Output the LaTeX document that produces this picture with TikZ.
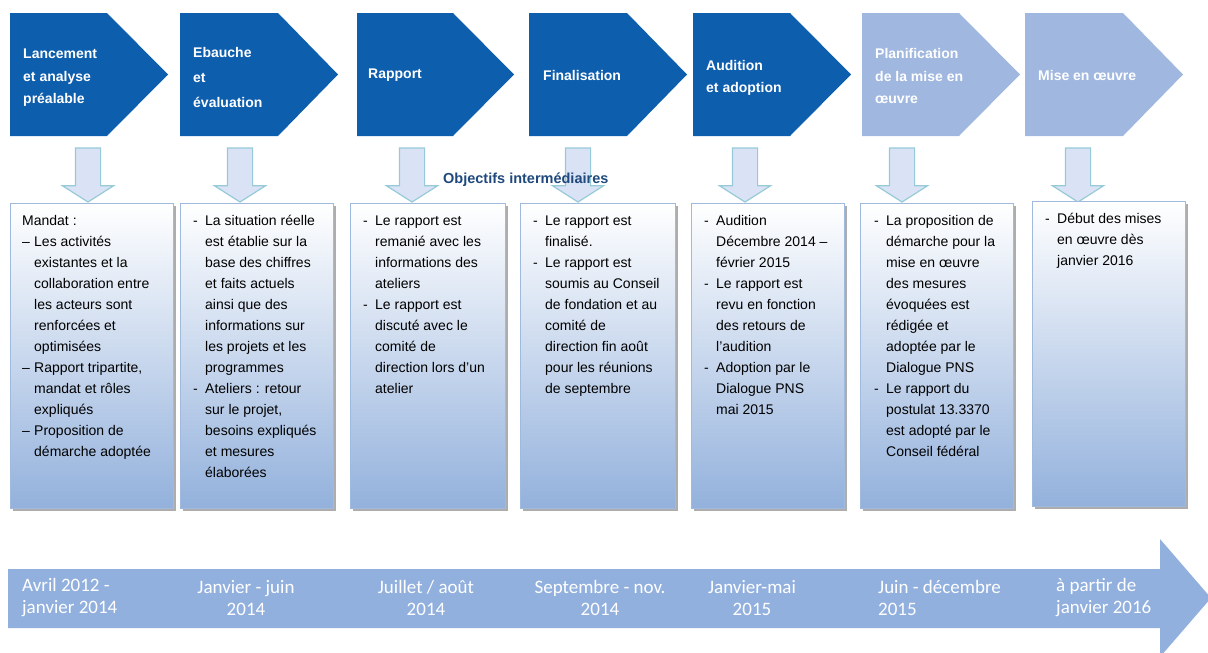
\documentclass[tikz,border=0pt]{standalone}
\usepackage{fontspec}
\setmainfont{Liberation Sans}
\newfontfamily\datefont{Carlito}
\usetikzlibrary{positioning}
\usetikzlibrary{shapes.arrows}
\usetikzlibrary{shadows}
\definecolor{phasedark}{RGB}{14,94,174}
\definecolor{phaselight}{RGB}{160,184,224}
\definecolor{timeline}{RGB}{146,176,222}
\definecolor{boxbottom}{RGB}{147,177,220}
\definecolor{boxedge}{RGB}{160,186,222}
\definecolor{arrowfill}{RGB}{218,227,245}
\definecolor{arrowedge}{RGB}{150,202,216}
\definecolor{objblue}{RGB}{31,73,125}

\begin{document}
\begin{tikzpicture}[
	x=1pt,
	y=-1pt,
	phase/.style={anchor=west,align=left,text=white,inner sep=0pt,font=\bfseries\fontsize{14}{22.5}\selectfont},
	down/.style={single arrow, rotate=-90, draw=arrowedge, line width=1.2pt, fill=arrowfill, minimum height=54pt, minimum width=50pt, inner xsep=0pt, inner ysep=12pt, single arrow head extend=13pt, single arrow tip angle=115},
	box/.style={anchor=north west, draw=boxedge, line width=1pt, top color=white, bottom color=boxbottom, minimum height=305pt, minimum width=153pt, inner sep=0pt, drop shadow={shadow xshift=2.5pt, shadow yshift=-2.5pt, fill=black!40, opacity=0.8}},
	item/.style={anchor=north west,inner sep=0pt,font=\fontsize{14}{21}\selectfont},
	date/.style={text=white,inner sep=0pt,font=\datefont\fontsize{19}{22}\selectfont},
]
\useasboundingbox (0,0) rectangle (1208,653);

% Phases
\fill[phasedark] (10,13) -- ++(97,0) -- ++(61,61.5) -- ++(-61,61.5) -- ++(-97,0) -- cycle;
\fill[phasedark] (180,13) -- ++(98,0) -- ++(60,61.5) -- ++(-60,61.5) -- ++(-98,0) -- cycle;
\fill[phasedark] (357,13) -- ++(96,0) -- ++(61,61.5) -- ++(-61,61.5) -- ++(-96,0) -- cycle;
\fill[phasedark] (529,13) -- ++(98,0) -- ++(60,61.5) -- ++(-60,61.5) -- ++(-98,0) -- cycle;
\fill[phasedark] (693,13) -- ++(97,0) -- ++(61,61.5) -- ++(-61,61.5) -- ++(-97,0) -- cycle;
\fill[phaselight] (862,13) -- ++(97,0) -- ++(61,61.5) -- ++(-61,61.5) -- ++(-97,0) -- cycle;
\fill[phaselight] (1025,13) -- ++(98,0) -- ++(60,61.5) -- ++(-60,61.5) -- ++(-98,0) -- cycle;

\node[phase](p1) at (23,78) {Lancement\\et analyse\\préalable};
\node[phase,font=\bfseries\fontsize{14}{25}\selectfont](p2) at (193,77) {Ebauche\\et\\évaluation};
\node[phase](p3) at (368,75) {Rapport};
\node[phase](p4) at (543,75) {Finalisation};
\node[phase](p5) at (706,78) {Audition\\et adoption};
\node[phase](p6) at (875,76) {Planification\\de la mise en\\œuvre};
\node[phase](p7) at (1038,75) {Mise en œuvre};

% Arrows down
\node[down](a1) at (88,171) {};
\node[down](a2) at (240,171) {};
\node[down](a3) at (412,171) {};
\node[down](a4) at (578,171) {};
\node[down](a5) at (745,171) {};
\node[down](a6) at (902,171) {};
\node[down](a7) at (1078,171) {};

\node[anchor=west,inner sep=0pt,text=objblue,font=\bfseries\fontsize{14.5}{17}\selectfont](obj) at (443,180) {Objectifs intermédiaires};

% Boxes
\node[box,minimum width=163pt](b1) at (10,203) {};
\node[box](b2) at (180,203) {};
\node[box,minimum width=155pt](b3) at (350,203) {};
\node[box,minimum width=155pt](b4) at (520,203) {};
\node[box](b5) at (691,203) {};
\node[box](b6) at (860,203) {};
\node[box](b7) at (1032,201) {};

\node[item](t1) at ([xshift=12pt,yshift=-8pt]b1.north west) {%
\begin{tabular}{@{}p{12pt}@{}l@{}}
\multicolumn{2}{@{}l@{}}{Mandat :}\\
–& Les activités\\
 & existantes et la\\
 & collaboration entre\\
 & les acteurs sont\\
 & renforcées et\\
 & optimisées\\
–& Rapport tripartite,\\
 & mandat et rôles\\
 & expliqués\\
–& Proposition de\\
 & démarche adoptée
\end{tabular}};
\node[item](t2) at ([xshift=13pt,yshift=-8pt]b2.north west) {%
\begin{tabular}{@{}p{12pt}@{}l@{}}
-& La situation réelle\\
 & est établie sur la\\
 & base des chiffres\\
 & et faits actuels\\
 & ainsi que des\\
 & informations sur\\
 & les projets et les\\
 & programmes\\
-& Ateliers : retour\\
 & sur le projet,\\
 & besoins expliqués\\
 & et mesures\\
 & élaborées
\end{tabular}};
\node[item](t3) at ([xshift=13pt,yshift=-8pt]b3.north west) {%
\begin{tabular}{@{}p{12pt}@{}l@{}}
-& Le rapport est\\
 & remanié avec les\\
 & informations des\\
 & ateliers\\
-& Le rapport est\\
 & discuté avec le\\
 & comité de\\
 & direction lors d'un\\
 & atelier
\end{tabular}};
\node[item](t4) at ([xshift=13pt,yshift=-8pt]b4.north west) {%
\begin{tabular}{@{}p{12pt}@{}l@{}}
-& Le rapport est\\
 & finalisé.\\
-& Le rapport est\\
 & soumis au Conseil\\
 & de fondation et au\\
 & comité de\\
 & direction fin août\\
 & pour les réunions\\
 & de septembre
\end{tabular}};
\node[item](t5) at ([xshift=13pt,yshift=-8pt]b5.north west) {%
\begin{tabular}{@{}p{12pt}@{}l@{}}
-& Audition\\
 & Décembre 2014 –\\
 & février 2015\\
-& Le rapport est\\
 & revu en fonction\\
 & des retours de\\
 & l'audition\\
-& Adoption par le\\
 & Dialogue PNS\\
 & mai 2015
\end{tabular}};
\node[item](t6) at ([xshift=14pt,yshift=-8pt]b6.north west) {%
\begin{tabular}{@{}p{12pt}@{}l@{}}
-& La proposition de\\
 & démarche pour la\\
 & mise en œuvre\\
 & des mesures\\
 & évoquées est\\
 & rédigée et\\
 & adoptée par le\\
 & Dialogue PNS\\
-& Le rapport du\\
 & postulat 13.3370\\
 & est adopté par le\\
 & Conseil fédéral
\end{tabular}};
\node[item](t7) at ([xshift=13pt,yshift=-8pt]b7.north west) {%
\begin{tabular}{@{}p{12pt}@{}l@{}}
-& Début des mises\\
 & en œuvre dès\\
 & janvier 2016
\end{tabular}};

% Timeline
\fill[timeline] (8,569) -- (1160,569) -- (1160,539) -- (1211,598) -- (1160,657) -- (1160,628) -- (8,628) -- cycle;

\node[date,anchor=west,align=left](d1) at (22,598) {Avril 2012 -\\janvier 2014};
\node[date,align=center](d2) at (246,598) {Janvier - juin\\2014};
\node[date,align=center](d3) at (426,598) {Juillet / août\\2014};
\node[date,align=center](d4) at (600,598) {Septembre - nov.\\2014};
\node[date,align=center](d5) at (752,598) {Janvier-mai\\2015};
\node[date,anchor=west,align=left](d6) at (878,598) {Juin - décembre\\2015};
\node[date,anchor=west,align=left](d7) at (1056,598) {à partir de\\janvier 2016};
\end{tikzpicture}
\end{document}
